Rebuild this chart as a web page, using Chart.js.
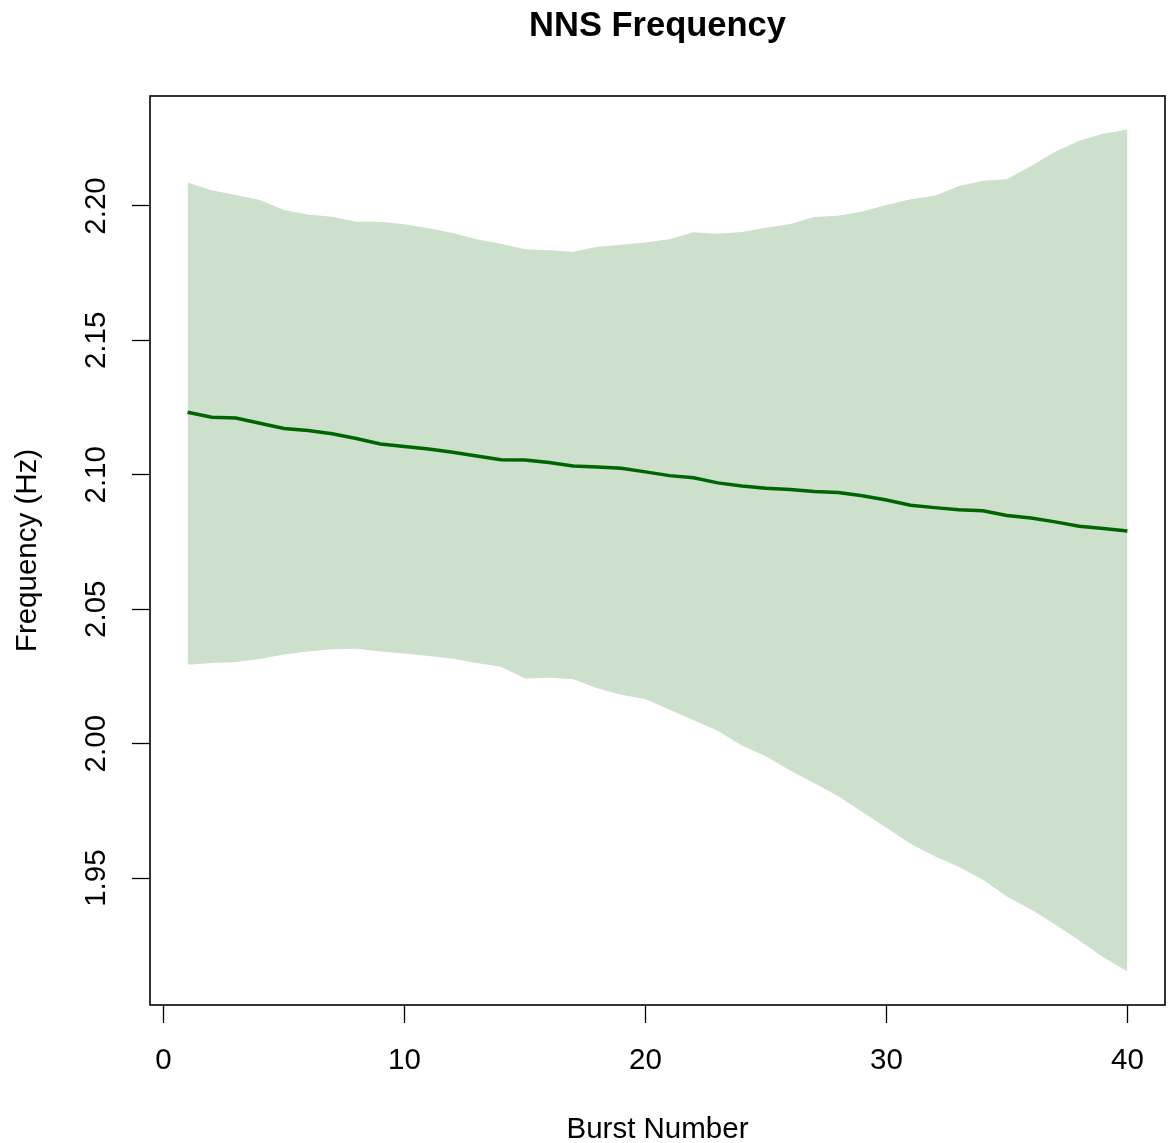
<!DOCTYPE html>
<html>
<head>
<meta charset="utf-8">
<script src="https://cdn.jsdelivr.net/npm/chart.js@4.4.1/dist/chart.umd.min.js"></script>
<style>
  html, body { margin: 0; padding: 0; background: #fff; }
  canvas { display: block; }
</style>
</head>
<body>
<canvas id="nnsChart" width="1168" height="1143"></canvas>
<script>
// burst index on the x axis
const burst = [1, 2, 3, 4, 5, 6, 7, 8, 9, 10,
               11, 12, 13, 14, 15, 16, 17, 18, 19, 20,
               21, 22, 23, 24, 25, 26, 27, 28, 29, 30,
               31, 32, 33, 34, 35, 36, 37, 38, 39, 40];

// fitted frequency (dark green line)
const meanFreq = [2.1233, 2.1214, 2.1211, 2.1192, 2.1172, 2.1165, 2.1153, 2.1135, 2.1115, 2.1105,
                  2.1096, 2.1084, 2.1070, 2.1056, 2.1055, 2.1046, 2.1033, 2.1029, 2.1024, 2.1011,
                  2.0997, 2.0989, 2.0970, 2.0958, 2.0950, 2.0945, 2.0938, 2.0934, 2.0922, 2.0906,
                  2.0887, 2.0878, 2.0870, 2.0866, 2.0849, 2.0839, 2.0825, 2.0809, 2.0800, 2.0791];

// band limits
const upperFreq = [2.2087, 2.2058, 2.2041, 2.2022, 2.1985, 2.1968, 2.1960, 2.1941, 2.1941, 2.1932,
                   2.1917, 2.1899, 2.1876, 2.1859, 2.1839, 2.1835, 2.1830, 2.1848, 2.1856, 2.1864,
                   2.1876, 2.1902, 2.1897, 2.1903, 2.1919, 2.1933, 2.1959, 2.1964, 2.1979, 2.2004,
                   2.2025, 2.2038, 2.2073, 2.2094, 2.2099, 2.2149, 2.2202, 2.2243, 2.2269, 2.2284];

const lowerFreq = [2.0294, 2.0300, 2.0304, 2.0315, 2.0332, 2.0343, 2.0351, 2.0353, 2.0343, 2.0335,
                   2.0326, 2.0316, 2.0300, 2.0286, 2.0242, 2.0245, 2.0240, 2.0206, 2.0182, 2.0166,
                   2.0126, 2.0087, 2.0048, 1.9993, 1.9953, 1.9900, 1.9854, 1.9804, 1.9746, 1.9687,
                   1.9628, 1.9581, 1.9542, 1.9494, 1.9432, 1.9383, 1.9327, 1.9268, 1.9206, 1.9153];

const xTicks = [0, 10, 20, 30, 40];
const yTicks = [1.95, 2.00, 2.05, 2.10, 2.15, 2.20];

const toPoints = ys => burst.map((x, i) => ({ x: x, y: ys[i] }));

const plotBox = {
    id: 'plotBox',
    afterDraw(chart) {
        const a = chart.chartArea;
        const ctx = chart.ctx;
        ctx.save();
        ctx.strokeStyle = '#000';
        ctx.lineWidth = 1.6;
        ctx.strokeRect(a.left, a.top, a.right - a.left, a.bottom - a.top);
        ctx.restore();
    }
};

const font = 'Liberation Sans, Arial, Helvetica, sans-serif';

var ctx = document.getElementById('nnsChart').getContext('2d');
var nnsChart = new Chart(ctx, {
    type: 'line',
    data: {
        datasets: [
            {
                label: 'Frequency',
                data: toPoints(meanFreq),
                borderColor: '#006400',
                borderWidth: 3.5,
                pointRadius: 0,
                fill: false,
                tension: 0
            },
            {
                label: 'Lower',
                data: toPoints(lowerFreq),
                borderColor: 'transparent',
                borderWidth: 1,
                pointRadius: 0,
                fill: false
            },
            {
                label: 'Upper',
                data: toPoints(upperFreq),
                borderColor: 'transparent',
                backgroundColor: 'rgba(0, 100, 0, 0.2)',
                borderWidth: 1,
                pointRadius: 0,
                fill: '-1'
            }
        ]
    },
    plugins: [plotBox],
    options: {
        responsive: false,
        animation: false,
        layout: { padding: { left: 0, right: 3, top: 0, bottom: 0 } },
        plugins: {
            legend: { display: false },
            tooltip: { enabled: false },
            title: {
                display: true,
                text: 'NNS Frequency',
                fullSize: false,
                color: '#000',
                font: { family: font, size: 34.5, weight: 'bold', lineHeight: 1.2 },
                padding: { top: 5.5, bottom: 49.1 }
            }
        },
        scales: {
            x: {
                type: 'linear',
                min: -0.56,
                max: 41.56,
                afterBuildTicks: function(scale) {
                    scale.ticks = xTicks.map(v => ({ value: v }));
                },
                afterFit: function(scale) {
                    scale.height = 138;
                },
                grid: {
                    drawOnChartArea: false,
                    drawTicks: true,
                    tickLength: 18,
                    tickWidth: 1.3,
                    tickColor: '#000'
                },
                border: { display: false },
                ticks: {
                    color: '#000',
                    padding: 20,
                    autoSkip: false,
                    maxRotation: 0,
                    font: { family: font, size: 29.5 },
                    callback: v => String(v)
                },
                title: {
                    display: true,
                    text: 'Burst Number',
                    color: '#000',
                    font: { family: font, size: 29.5, lineHeight: 1.2 },
                    padding: { top: 0, bottom: -4.5 }
                }
            },
            y: {
                type: 'linear',
                min: 1.9028,
                max: 2.2409,
                afterBuildTicks: function(scale) {
                    scale.ticks = yTicks.map(v => ({ value: v }));
                },
                afterFit: function(scale) {
                    scale.width = 150;
                },
                grid: {
                    drawOnChartArea: false,
                    drawTicks: true,
                    tickLength: 18,
                    tickWidth: 1.3,
                    tickColor: '#000'
                },
                border: { display: false },
                ticks: {
                    color: '#000',
                    padding: 6,
                    autoSkip: false,
                    minRotation: 90,
                    maxRotation: 90,
                    crossAlign: 'center',
                    font: { family: font, size: 29.5 },
                    callback: v => v.toFixed(2)
                },
                title: {
                    display: true,
                    text: 'Frequency (Hz)',
                    color: '#000',
                    font: { family: font, size: 29.5, lineHeight: 1.2 },
                    padding: { top: 10.4, bottom: 0 }
                }
            }
        }
    }
});
</script>
</body>
</html>
